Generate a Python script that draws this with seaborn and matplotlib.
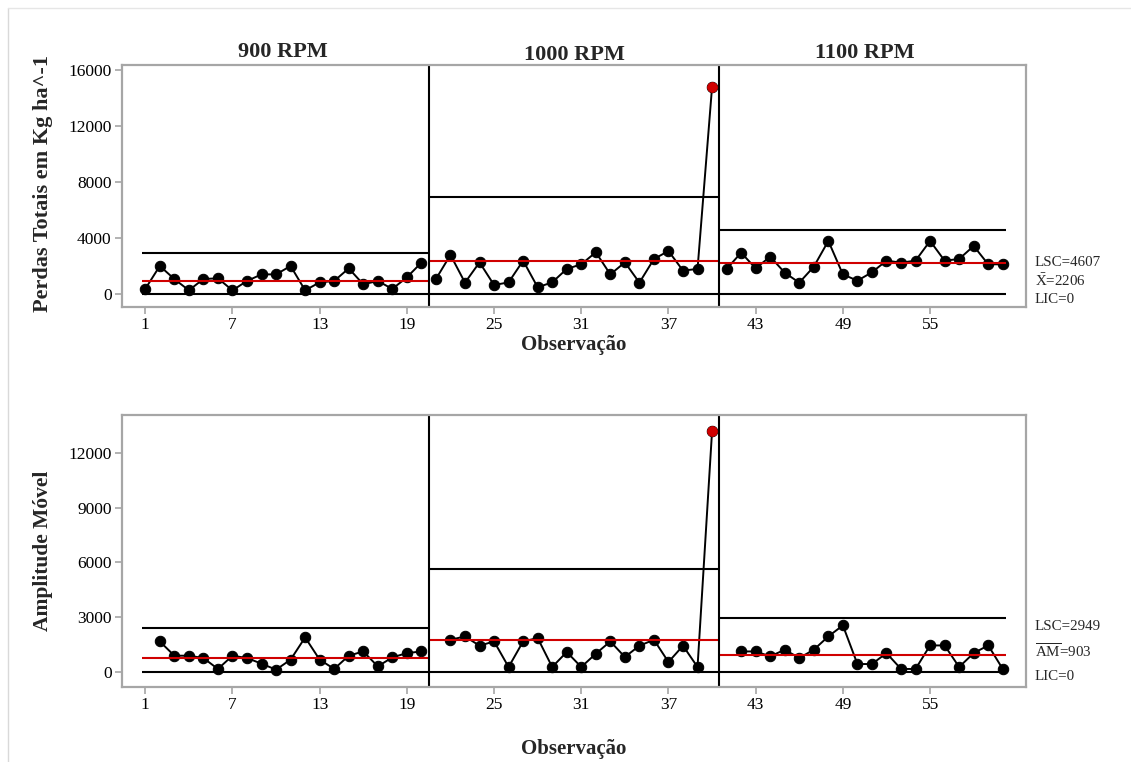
import numpy as np
import pandas as pd
import seaborn as sns
import matplotlib
matplotlib.use("Agg")
import matplotlib.pyplot as plt
from matplotlib.lines import Line2D

# ---------------- data ----------------
stage_names = ["900 RPM", "1000 RPM", "1100 RPM"]

perdas_900 = [360, 2000, 1070, 260, 1070, 1120, 260, 930, 1400, 1400,
              2000, 260, 830, 930, 1830, 690, 930, 360, 1190, 2240]
perdas_1000 = [1070, 2790, 810, 2260, 640, 830, 2380, 480, 830, 1790,
               2120, 2980, 1400, 2260, 810, 2500, 3070, 1670, 1790, 14800]
perdas_1100 = [1790, 2950, 1830, 2670, 1520, 810, 1950, 3790, 1400, 950,
               1550, 2380, 2240, 2380, 3790, 2380, 2500, 3430, 2120, 2120]

am_900 = [np.nan, 1660, 877, 877, 750, 150, 877, 750, 440, 110,
          660, 1880, 660, 150, 877, 1110, 290, 785, 1020, 1110]
am_1000 = [np.nan, 1750, 1935, 1425, 1660, 256, 1660, 1845, 256, 1080,
           256, 986, 1660, 805, 1425, 1750, 530, 1425, 256, 13200]
am_1100 = [np.nan, 1110, 1110, 840, 1205, 750, 1205, 1935, 2540, 420,
           420, 1020, 150, 150, 1440, 1440, 256, 1020, 1440, 150]

x_center = [950, 2330, 2206]
x_lsc = [2920, 6905, 4607]
x_lic = [0, 0, 0]
am_center = [740, 1720, 903]
am_lsc = [2420, 5620, 2949]
am_lic = [0, 0, 0]

out_of_control_obs = [40]
xtick_vals = [1, 7, 13, 19, 25, 31, 37, 43, 49, 55]
ytick_top = [0, 4000, 8000, 12000, 16000]
ytick_bot = [0, 3000, 6000, 9000, 12000]

# ---------------- frame ----------------
perdas = perdas_900 + perdas_1000 + perdas_1100
am = am_900 + am_1000 + am_1100
n_stage = len(perdas_900)
df = pd.DataFrame({
    "obs": np.arange(1, len(perdas) + 1),
    "stage": np.repeat(stage_names, n_stage),
    "perdas": perdas,
    "am": am,
})
df["out"] = df["obs"].isin(out_of_control_obs)

sns.set_theme(style="white")
plt.rcParams["font.family"] = ["Liberation Serif", "DejaVu Serif"]
plt.rcParams["mathtext.fontset"] = "custom"
plt.rcParams["mathtext.rm"] = "Liberation Serif"
plt.rcParams["mathtext.it"] = "Liberation Serif:italic"
plt.rcParams["mathtext.bf"] = "Liberation Serif:bold"

W, H = 1131, 762
fig = plt.figure(figsize=(W / 100, H / 100), dpi=100)
ax1 = fig.add_axes([122 / W, 1 - 307 / H, 904 / W, 242 / H])
ax2 = fig.add_axes([122 / W, 1 - 687 / H, 904 / W, 272 / H])

stage_bounds = [(0.8, 20.5), (20.5, 40.5), (40.5, 60.2)]
grey = "#a6a6a6"


def draw(ax, col, centers, lscs, lics, ylim, yticks):
    sns.lineplot(data=df, x="obs", y=col, units="stage", estimator=None,
                 color="black", lw=1.4, marker="o", markersize=7.5,
                 markeredgecolor="black", ax=ax, legend=False)
    sns.scatterplot(data=df[df["out"]], x="obs", y=col, color="#d00000",
                    edgecolor="#d00000", s=50, zorder=5, ax=ax, legend=False)
    for (a, b), c, u, l in zip(stage_bounds, centers, lscs, lics):
        ax.hlines([u, l], a, b, colors="black", lw=1.5, zorder=2)
        ax.hlines(c, a, b, colors="#d00000", lw=1.5, zorder=2)
    for xv in [20.5, 40.5]:
        ax.axvline(xv, color="black", lw=1.5, zorder=2)
    ax.set_xlim(-0.6, 61.6)
    ax.set_ylim(*ylim)
    ax.set_xticks(xtick_vals)
    ax.set_yticks(yticks)
    ax.set_xticklabels([str(v) for v in xtick_vals])
    ax.set_yticklabels([str(v) for v in yticks])
    for s in ax.spines.values():
        s.set_color(grey)
        s.set_linewidth(1.6)
    ax.tick_params(axis="both", which="both", direction="out", length=5,
                   width=1.2, color=grey, labelsize=12.5, labelcolor="black",
                   pad=2.5, bottom=True, left=True)
    ax.set_xlabel("Observação", fontsize=15, fontweight="bold")


draw(ax1, "perdas", x_center, x_lsc, x_lic, (-930, 16360), ytick_top)
draw(ax2, "am", am_center, am_lsc, am_lic, (-840, 14080), ytick_bot)

ax1.set_ylabel("Perdas Totais em Kg ha^-1", fontsize=16, fontweight="bold")
ax2.set_ylabel("Amplitude Móvel", fontsize=15.5, fontweight="bold")
ax1.yaxis.set_label_coords(-0.076, 0.51)
ax2.yaxis.set_label_coords(-0.076, 0.5)
ax1.xaxis.set_label_coords(0.5, -0.115)
ax2.xaxis.set_label_coords(0.5, -0.19)

for name, cx, off in zip(stage_names, [10.5, 30.5, 50.5], [2.5, 0, 1.5]):
    ax1.annotate(name, xy=(cx, 1), xycoords=("data", "axes fraction"),
                 xytext=(0, off), textcoords="offset points", ha="center",
                 va="bottom", fontsize=16, fontweight="bold")

# control limit labels
lx = 1035 / W
fs = 10.8
fig.text(lx, 1 - 263 / H, f"LSC={x_lsc[-1]}", fontsize=fs, va="center")
fig.text(lx, 1 - 281 / H, r"$\bar{\mathrm{X}}$" + f"={x_center[-1]}", fontsize=fs, va="center")
fig.text(lx, 1 - 299 / H, f"LIC={x_lic[-1]}", fontsize=fs, va="center")
fig.text(lx, 1 - 626 / H, f"LSC={am_lsc[-1]}", fontsize=fs, va="center")
fig.text(lx, 1 - 652 / H, r"$\overline{\mathrm{AM}}$" + f"={am_center[-1]}", fontsize=fs, va="center")
fig.text(lx, 1 - 676 / H, f"LIC={am_lic[-1]}", fontsize=fs, va="center")

# faint outer border
fig.add_artist(Line2D([8 / W, 8 / W], [0, 1 - 8 / H], transform=fig.transFigure,
                      color="#d9d9d9", lw=1))
fig.add_artist(Line2D([8 / W, 1], [1 - 8 / H, 1 - 8 / H], transform=fig.transFigure,
                      color="#e6e6e6", lw=1))

fig.savefig("out.png", dpi=100, facecolor="white")
